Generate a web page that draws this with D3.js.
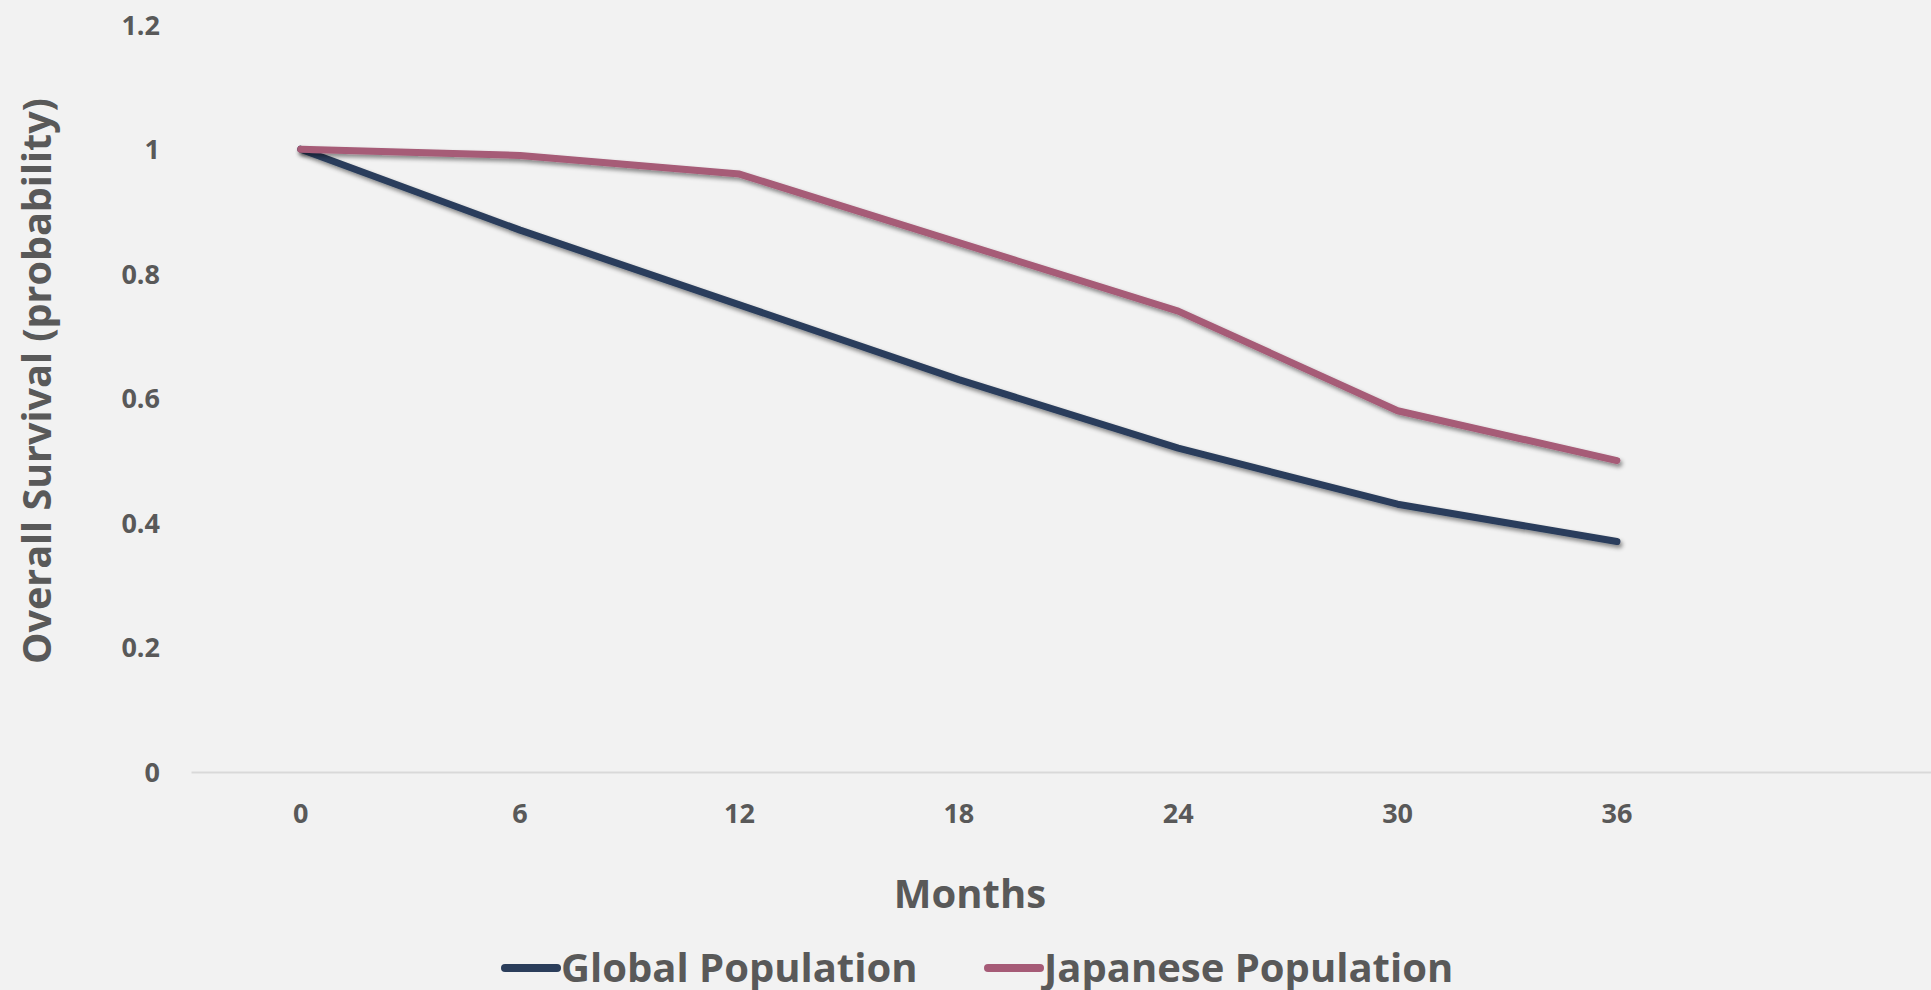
<!DOCTYPE html>
<html><head><meta charset="utf-8">
<script src="https://cdn.jsdelivr.net/npm/d3@7/dist/d3.min.js"></script>
<style>
html,body{margin:0;padding:0;background:#f2f2f2;}
svg{display:block;font-family:"Open Sans",sans-serif;}
</style></head>
<body><svg id="chart" width="1931" height="990"></svg>
<script>
const months = ["0","6","12","18","24","30","36",""];
const seriesNames = ["Global Population","Japanese Population"];
const seriesColors = ["#2b3e5b","#a65b77"];
const globalValues = [1.0,0.87,0.75,0.63,0.52,0.43,0.37];
const japaneseValues = [1.0,0.99,0.96,0.85,0.74,0.58,0.50];
const yTicks = [0,0.2,0.4,0.6,0.8,1,1.2];
const xTitle = "Months";
const yTitle = "Overall Survival (probability)";

const svg = d3.select("#chart");
const textColor = "#595959";
const font = "'Open Sans', sans-serif";
const defs = svg.append("defs");
const f = defs.append("filter").attr("id","shadow").attr("x","-10%").attr("y","-10%").attr("width","120%").attr("height","130%");
f.append("feDropShadow").attr("dx",2).attr("dy",3).attr("stdDeviation",2.2).attr("flood-color","#000").attr("flood-opacity",0.45);

const x = d3.scaleBand().domain(months).range([191,1946]).padding(0);
const y = d3.scaleLinear().domain([0,1.2]).range([772,24.6]);

// Y axis
const yAxis = svg.append("g").attr("transform","translate(160,0)")
  .call(d3.axisLeft(y).tickValues(yTicks).tickFormat(d3.format("~g")).tickSize(0).tickPadding(0));
yAxis.attr("font-family",font);
yAxis.select(".domain").remove();
yAxis.selectAll("text").attr("fill",textColor).style("font-family",font).style("font-size","27px").style("font-weight","700").attr("dy","0.35em");

// X axis
const xAxis = svg.append("g").attr("transform","translate(0,772)")
  .call(d3.axisBottom(x).tickSize(0).tickPadding(0));
xAxis.attr("font-family",font);
xAxis.select(".domain").attr("stroke","#d9d9d9").attr("stroke-width",2);
xAxis.selectAll("text").attr("fill",textColor).style("font-family",font).style("font-size","27px").style("font-weight","700").attr("y",42).attr("dy","0.35em");

// Titles
svg.append("text").attr("x",970).attr("y",894).attr("dy","0.35em").attr("text-anchor","middle")
  .attr("fill",textColor).style("font-size","40px").style("font-weight","700").text(xTitle);
svg.append("text").attr("transform","translate(37,381) rotate(-90)").attr("dy","0.35em").attr("text-anchor","middle")
  .attr("fill",textColor).style("font-size","39.5px").style("font-weight","700").text(yTitle);

// Lines
const line = d3.line().x((d,i)=>x(months[i])+x.bandwidth()/2).y(d=>y(d));
[globalValues,japaneseValues].forEach((vals,i)=>{
  svg.append("path").datum(vals).attr("d",line).attr("fill","none")
    .attr("stroke",seriesColors[i]).attr("stroke-width",7).attr("stroke-linecap","round").attr("stroke-linejoin","round")
    .attr("filter","url(#shadow)");
});

// Legend
const legendX = [502,985];
seriesNames.forEach((name,i)=>{
  const g = svg.append("g").attr("transform",`translate(${legendX[i]},968)`);
  g.append("line").attr("x1",3).attr("x2",55).attr("y1",0).attr("y2",0)
    .attr("stroke",seriesColors[i]).attr("stroke-width",8).attr("stroke-linecap","round");
  g.append("text").attr("x",59).attr("y",0).attr("dy","0.35em").attr("fill",textColor)
    .style("font-size","40px").style("font-weight","700").text(name);
});
</script></body></html>
